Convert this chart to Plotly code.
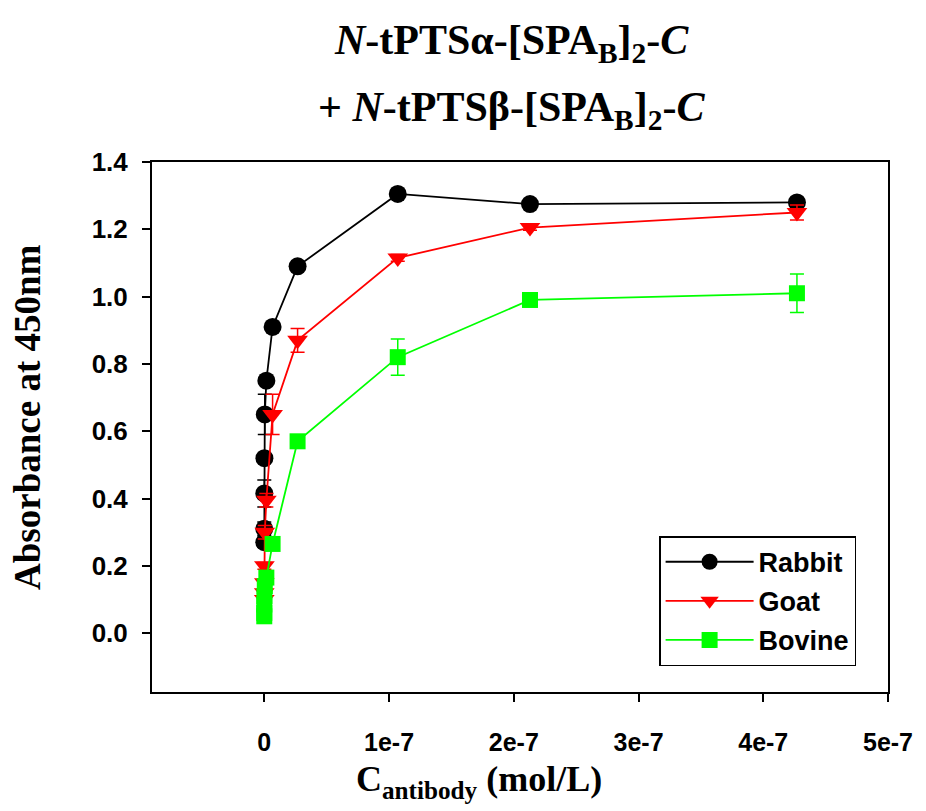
import plotly.graph_objects as go

# Antibody concentration (mol/L)
conc = [4.27e-7, 2.13e-7, 1.07e-7, 2.67e-8, 6.67e-9, 1.67e-9, 4.17e-10, 1.04e-10, 2.6e-11, 6.5e-12, 1.6e-12]

rabbit_y = [1.28, 1.275, 1.305, 1.09, 0.91, 0.75, 0.65, 0.52, 0.415, 0.31, 0.27]
rabbit_err = [0.01, 0.008, 0.01, 0.01, 0.01, 0.01, 0.06, 0.01, 0.04, 0.02, 0.015]

goat_y = [1.25, 1.205, 1.115, 0.87, 0.65, 0.395, 0.30, 0.20, 0.15, 0.12, 0.10]
goat_err = [0.022, 0.008, 0.01, 0.035, 0.06, 0.02, 0.02, 0.01, 0.01, 0.01, 0.01]

bovine_y = [1.01, 0.99, 0.82, 0.57, 0.265, 0.165, 0.14, 0.11, 0.085, 0.06, 0.05]
bovine_err = [0.057, 0.01, 0.054, 0.01, 0.01, 0.01, 0.01, 0.01, 0.01, 0.01, 0.01]

x_ticks = [0, 1e-7, 2e-7, 3e-7, 4e-7, 5e-7]
x_ticktext = ["0", "1e-7", "2e-7", "3e-7", "4e-7", "5e-7"]
y_ticks = [0.0, 0.2, 0.4, 0.6, 0.8, 1.0, 1.2, 1.4]

SANS = "Arial, Liberation Sans, sans-serif"
SERIF = "Times New Roman, Liberation Serif, serif"

series = [
    ("Rabbit", rabbit_y, rabbit_err, "black", "circle", 18),
    ("Goat", goat_y, goat_err, "#ff0000", "triangle-down", 18),
    ("Bovine", bovine_y, bovine_err, "#00ff00", "square", 16),
]

fig = go.Figure()
for name, ys, errs, col, sym, sz in series:
    fig.add_trace(go.Scatter(
        x=conc, y=ys, name=name, mode="lines+markers", legendgroup=name,
        line=dict(color=col, width=1.8),
        marker=dict(color=col, symbol=sym, size=sz, line=dict(width=0)),
        error_y=dict(type="data", array=errs, visible=True, color=col,
                     thickness=1.5, width=7),
    ))

fig.update_layout(
    width=918, height=803,
    margin=dict(l=144, r=38, t=154, b=119),
    plot_bgcolor="white", paper_bgcolor="white",
    showlegend=True,
    legend=dict(x=0.689, y=0.294, xanchor="left", yanchor="top",
                bordercolor="black", borderwidth=1.5, bgcolor="white",
                font=dict(family=SANS, size=27, color="black", weight="bold"),
                itemwidth=88, tracegroupgap=1),
)

fig.update_xaxes(
    range=[-0.9e-7, 5e-7], tickvals=x_ticks, ticktext=x_ticktext,
    showline=True, linecolor="black", linewidth=2, mirror=True,
    ticks="outside", ticklen=8, tickwidth=2, tickcolor="black",
    showgrid=False, zeroline=False, ticklabelstandoff=19,
    tickfont=dict(family=SANS, size=25, color="black", weight="bold"),
)
fig.update_yaxes(
    range=[-0.175, 1.4], tickvals=y_ticks, tickformat=".1f",
    showline=True, linecolor="black", linewidth=2, mirror=True,
    ticks="outside", ticklen=8, tickwidth=2, tickcolor="black",
    showgrid=False, zeroline=False, ticklabelstandoff=9,
    tickfont=dict(family=SANS, size=26, color="black", weight="bold"),
)

title_font = dict(family=SERIF, size=42, color="black", weight="bold")
fig.add_annotation(text="<i>N</i>-tPTSα-[SPA<sub>B</sub>]<sub>2</sub>-<i>C</i>",
                   xref="paper", yref="paper", x=0.488, y=1.277,
                   showarrow=False, font=title_font)
fig.add_annotation(text="+ <i>N</i>-tPTSβ-[SPA<sub>B</sub>]<sub>2</sub>-<i>C</i>",
                   xref="paper", yref="paper", x=0.488, y=1.151,
                   showarrow=False, font=title_font)
fig.add_annotation(text="Absorbance at 450nm", textangle=-90,
                   xref="paper", yref="paper", x=-0.199, y=0.519,
                   showarrow=False,
                   font=dict(family=SERIF, size=37, color="black", weight="bold"))
fig.add_annotation(text="C<sub>antibody</sub> (mol/L)",
                   xref="paper", yref="paper", x=0.444, y=-0.216,
                   showarrow=False,
                   font=dict(family=SERIF, size=36, color="black", weight="bold"))

fig.write_html("out.html")
